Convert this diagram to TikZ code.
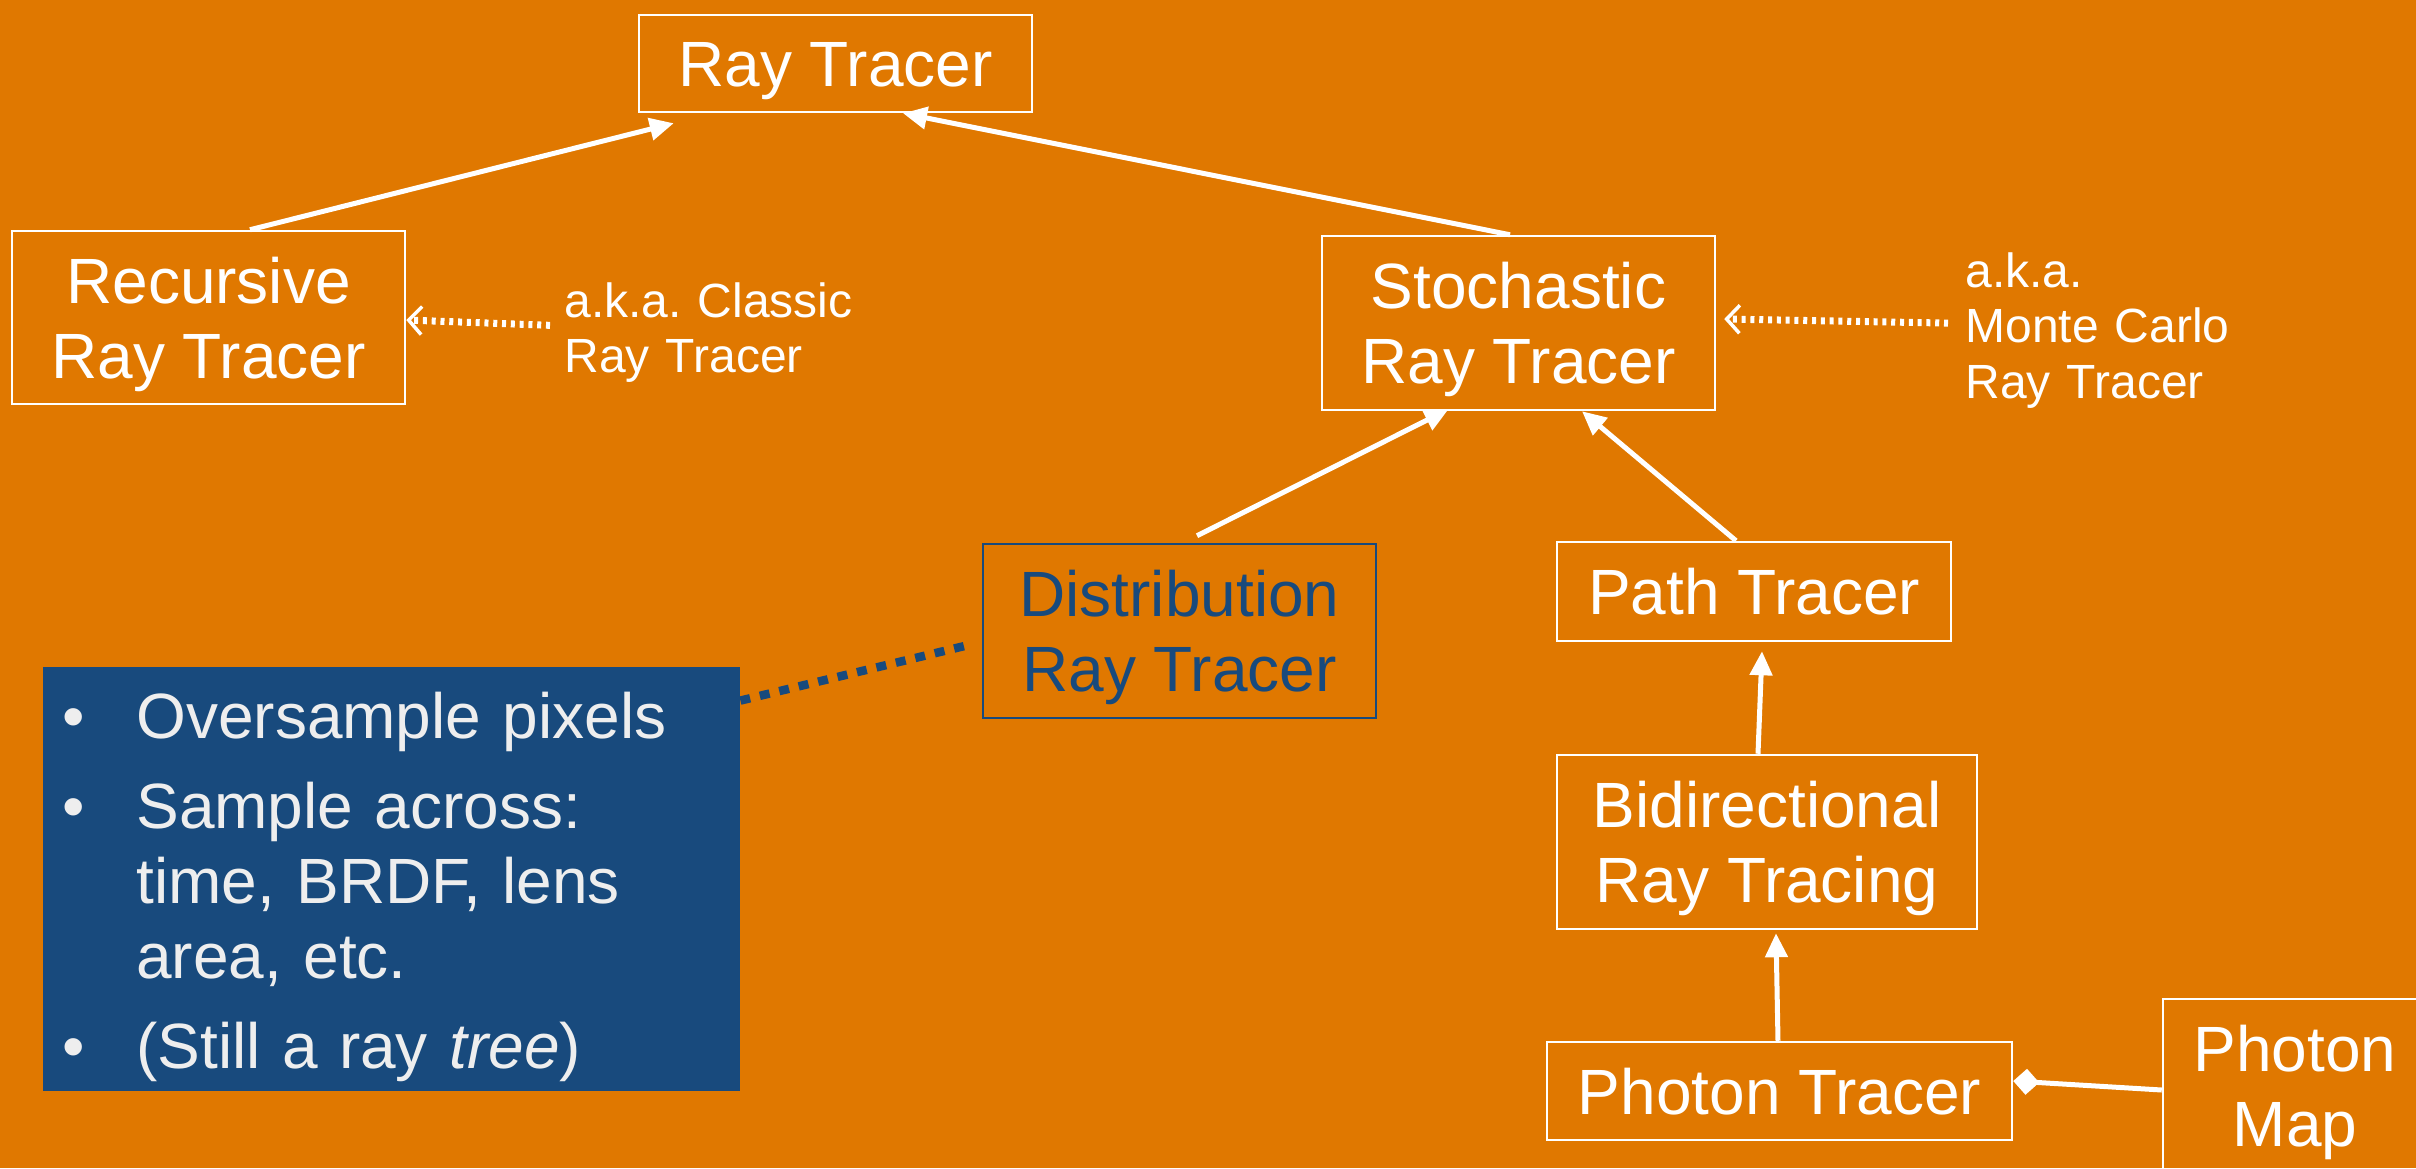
\documentclass[tikz,border=0pt]{standalone}
\usepackage{fontspec}
\setmainfont{Liberation Sans}
\usetikzlibrary{arrows.meta}
\definecolor{bg}{HTML}{E07800}
\definecolor{navy}{HTML}{184A7D}
\definecolor{pale}{HTML}{EEEEEE}
\frenchspacing

\begin{document}
\begin{tikzpicture}[x=0.5pt,y=-0.5pt,
  box/.style={draw=white, line width=1.25pt, text=white, inner sep=0pt, align=center,
    font=\fontsize{32}{37.5}\selectfont},
  onebox/.style={box, text height=23pt, text depth=0pt},
  twobox/.style={box, text height=60.5pt, text depth=0pt},
  link/.style={draw=white, line width=2.5pt, -{Triangle[length=12pt,width=11pt]}},
  alias/.style={draw=white, line width=3.5pt, dash pattern=on 2pt off 2.4pt,
    -{Straight Barb[length=6.5pt,width=14pt,line width=1.75pt]}},
  aka/.style={font=\fontsize{24}{27.75}\selectfont, text=white, align=left,
    text width=160pt, anchor=base west, inner sep=0pt}
]
\useasboundingbox (0,0) rectangle (2416,1168);
\fill[bg] (0,0) rectangle (2416,1168);

% class boxes
\node[onebox, minimum width=196.5pt, minimum height=48.5pt] (rt) at (835.5,63.5) {Ray Tracer};
\node[twobox, minimum width=196.5pt, minimum height=86.5pt] (rec) at (208.5,317.5) {Recursive\\Ray Tracer};
\node[twobox, minimum width=196.5pt, minimum height=87pt] (sto) at (1518.5,323) {Stochastic\\Ray Tracer};
\node[twobox, draw=navy, text=navy, minimum width=196.5pt, minimum height=87pt] (dist) at (1179.5,631) {Distribution\\Ray Tracer};
\node[onebox, minimum width=197pt, minimum height=49.5pt] (path) at (1754,591.5) {Path Tracer};
\node[twobox, minimum width=210pt, minimum height=87pt] (bidi) at (1767,842) {Bidirectional\\Ray Tracing};
\node[onebox, minimum width=232.5pt, minimum height=49pt] (ptr) at (1779.5,1091) {Photon Tracer};
\node[twobox, minimum width=132pt, minimum height=87pt] (pmap) at (2295,1086) {Photon\\Map};

% side notes
\node[aka] (aka1) at (564,317) {a.k.a. Classic\\Ray Tracer};
\node[aka] (aka2) at (1965,287) {a.k.a.\\Monte Carlo\\Ray Tracer};

% callout panel
\node[fill=navy, inner sep=0pt, minimum width=348.5pt, minimum height=212pt] (notes) at (391.5,879) {};
\node[text=pale, font=\fontsize{32}{37.5}\selectfont, align=left, text width=300pt,
      anchor=base west, inner sep=0pt] (notetext) at (136,738)
  {\leavevmode\llap{\textbullet\hspace{25.5pt}}Oversample pixels\\[7.5pt]
   \leavevmode\llap{\textbullet\hspace{25.5pt}}Sample across:\\
   time, BRDF, lens\\
   area, etc.\\[7.5pt]
   \leavevmode\llap{\textbullet\hspace{25.5pt}}(Still a ray \textit{tree})};

% inheritance links
\draw[link] ([xshift=20.75pt]rec.north) -- ([xshift=18pt,yshift=-5pt]rt.south west);
\draw[link] ([xshift=-4.25pt]sto.north) -- ([xshift=33.75pt]rt.south);
\draw[link] ([xshift=8.75pt,yshift=3.5pt]dist.north) -- ([xshift=-35pt,yshift=1pt]sto.south);
\draw[link] ([xshift=-9pt]path.north) -- ([xshift=31.75pt]sto.south);
\draw[link] ([xshift=-4.5pt]bidi.north) -- ([xshift=4pt,yshift=-4.5pt]path.south);
\draw[link] ([xshift=-0.75pt]ptr.north) -- ([xshift=4.5pt,yshift=-1.5pt]bidi.south);
\draw[white, line width=2.5pt, -{Diamond[length=13pt,width=13pt]}]
  ([yshift=-2pt]pmap.west) -- ([yshift=5pt]ptr.east);

% alias pointers
\draw[alias] ([xshift=-7pt,yshift=3.5pt]aka1.west) -- ([yshift=-1.25pt]rec.east);
\draw[alias] ([xshift=-8.5pt,yshift=3.5pt]aka2.west) -- ([xshift=4pt,yshift=2pt]sto.east);

% callout leader
\draw[navy, line width=4.25pt, dash pattern=on 5pt off 5pt]
  ([yshift=-17pt]notes.north east) -- ([xshift=-4.5pt,yshift=-6.5pt]dist.west);
\end{tikzpicture}
\end{document}
